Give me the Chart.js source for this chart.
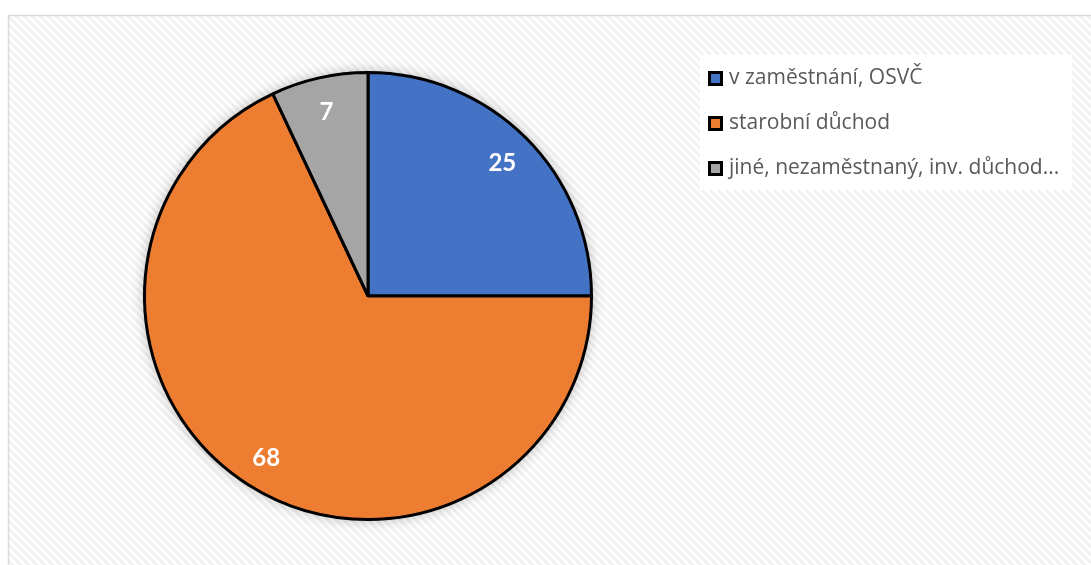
<!DOCTYPE html>
<html>
<head>
<meta charset="utf-8">
<script src="https://cdn.jsdelivr.net/npm/chart.js@4/dist/chart.umd.min.js"></script>
<style>
  html, body { margin: 0; padding: 0; background: #fff; }
  #wrap { width: 1091px; height: 565px; position: relative; }
</style>
</head>
<body>
<div id="wrap"><canvas id="myChart" width="1091" height="565"></canvas></div>
<script>
const labels = ["v zaměstnání, OSVČ", "starobní důchod", "jiné, nezaměstnaný, inv. důchod..."];
const values = [25, 68, 7];
const colors = ['#4472C4', '#ED7D31', '#A5A5A5'];

// hatched background + frame + legend box
const backdrop = {
    id: 'backdrop',
    beforeDraw(chart) {
        const ctx = chart.ctx;
        const p = document.createElement('canvas');
        p.width = 8; p.height = 8;
        const pc = p.getContext('2d');
        pc.fillStyle = '#ffffff';
        pc.fillRect(0, 0, 8, 8);
        pc.strokeStyle = '#f1f1f1';
        pc.lineWidth = 2.5;
        pc.beginPath();
        pc.moveTo(-2, -2); pc.lineTo(10, 10);
        pc.moveTo(-6, 2); pc.lineTo(2, 10);
        pc.moveTo(6, -2); pc.lineTo(14, 6);
        pc.stroke();
        ctx.save();
        ctx.fillStyle = '#fff';
        ctx.fillRect(0, 0, chart.width, chart.height);
        ctx.fillStyle = ctx.createPattern(p, 'repeat');
        ctx.fillRect(9, 16, chart.width - 9, chart.height - 16);
        ctx.strokeStyle = '#d9d9d9';
        ctx.lineWidth = 1.5;
        ctx.strokeRect(8.5, 15.5, chart.width + 10, chart.height + 10);
        ctx.fillStyle = '#ffffff';
        ctx.fillRect(700, 55, 372, 135);
        ctx.restore();
    }
};

const shadow = {
    id: 'shadow',
    beforeDatasetDraw(chart) {
        const ctx = chart.ctx;
        const arc = chart.getDatasetMeta(0).data[0];
        ctx.save();
        ctx.shadowColor = 'rgba(0,0,0,0.3)';
        ctx.shadowBlur = 14;
        ctx.fillStyle = '#ffffff';
        ctx.beginPath();
        ctx.arc(arc.x, arc.y, arc.outerRadius, 0, Math.PI * 2);
        ctx.fill();
        ctx.restore();
    }
};

// value labels inside the slices
const sliceLabels = {
    id: 'sliceLabels',
    afterDatasetsDraw(chart) {
        const ctx = chart.ctx;
        const meta = chart.getDatasetMeta(0);
        ctx.save();
        ctx.fillStyle = '#ffffff';
        ctx.font = 'bold 24px Lato, "Open Sans", sans-serif';
        ctx.textAlign = 'center';
        ctx.textBaseline = 'middle';
        meta.data.forEach((arc, i) => {
            const a = (arc.startAngle + arc.endAngle) / 2;
            const r = arc.outerRadius * 0.85;
            ctx.fillText(String(values[i]), arc.x + Math.cos(a) * r, arc.y + Math.sin(a) * r + 2);
        });
        ctx.restore();
    }
};

const legendBox = {
    id: 'legendBox',
    afterDraw(chart) {
        const ctx = chart.ctx;
        const rows = [78, 123, 168];
        ctx.save();
        ctx.font = '21px "Open Sans", Lato, sans-serif';
        ctx.textBaseline = 'middle';
        labels.forEach((lab, i) => {
            const y = rows[i];
            ctx.fillStyle = '#000';
            ctx.fillRect(708, y - 7, 15, 15);
            ctx.fillStyle = colors[i];
            ctx.fillRect(711, y - 4, 9, 9);
            ctx.fillStyle = '#595959';
            ctx.fillText(lab, 729, y);
        });
        ctx.restore();
    }
};

const ctx = document.getElementById('myChart').getContext('2d');
const myChart = new Chart(ctx, {
    type: 'pie',
    data: {
        labels: labels,
        datasets: [{
            data: values,
            backgroundColor: colors,
            borderColor: '#000000',
            borderWidth: 3
        }]
    },
    options: {
        responsive: false,
        animation: { duration: 0 },
        layout: { padding: { left: 143, right: 498, top: 71, bottom: 44 } },
        plugins: {
            legend: { display: false },
            tooltip: { enabled: false }
        }
    },
    plugins: [backdrop, shadow, sliceLabels, legendBox]
});
</script>
</body>
</html>
